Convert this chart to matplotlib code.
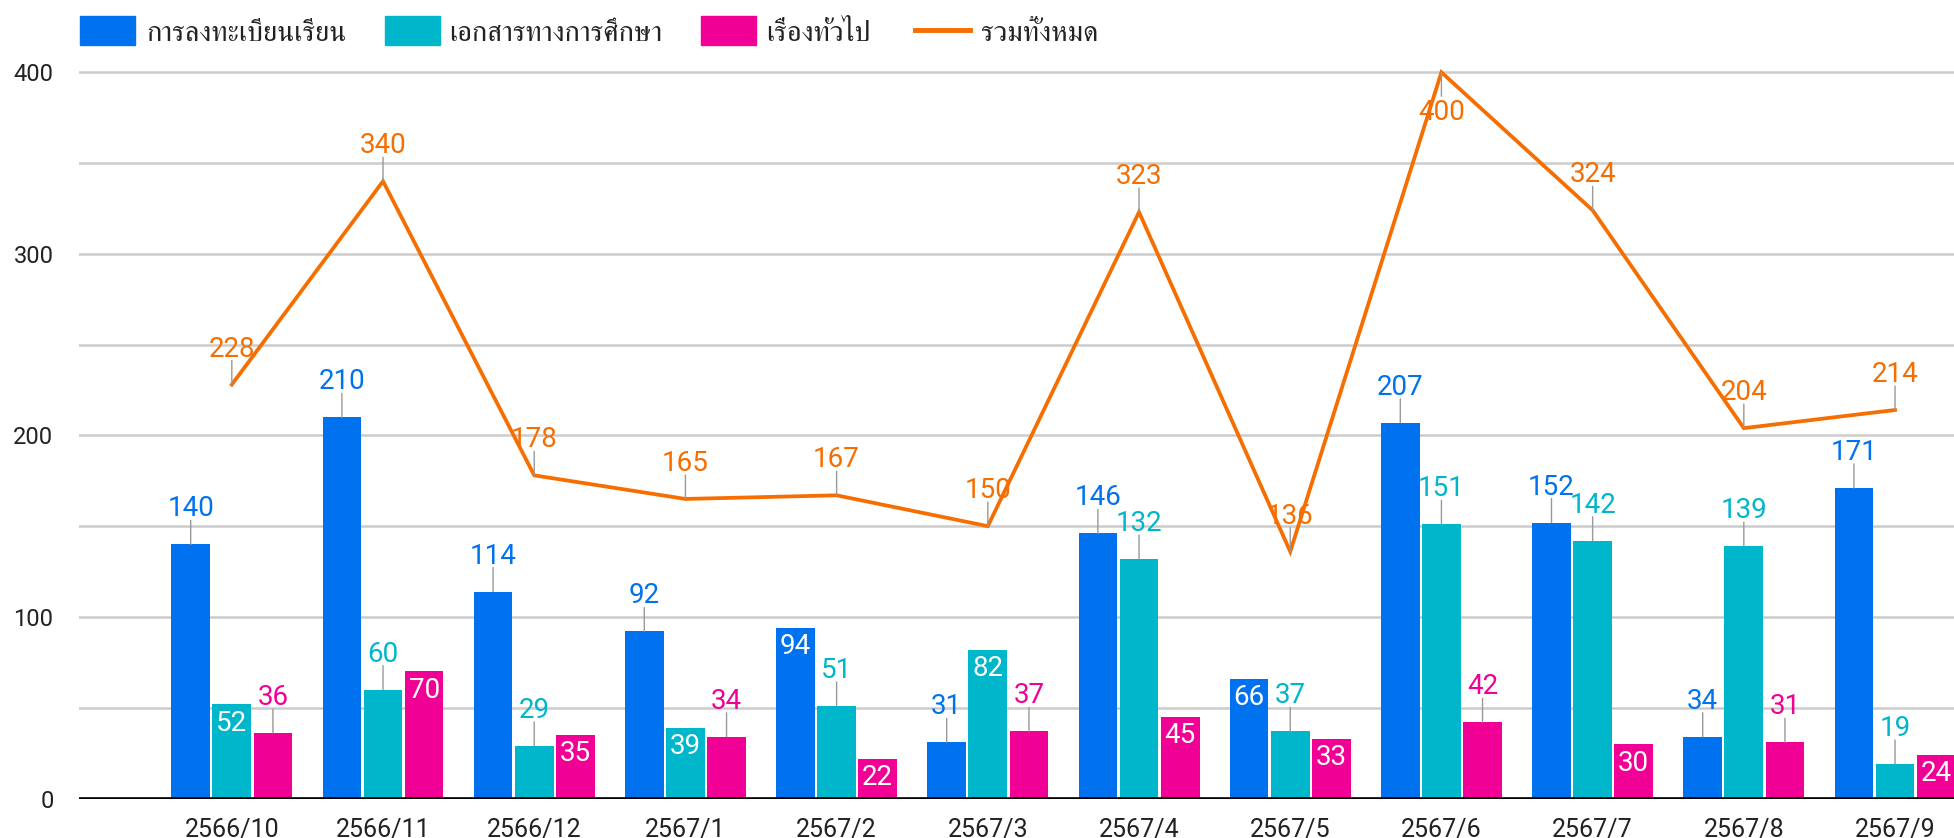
import matplotlib
matplotlib.use("Agg")
import matplotlib.pyplot as plt
from matplotlib import font_manager as fm
from matplotlib.patches import Rectangle
from matplotlib.lines import Line2D
import numpy as np

# ---- data ----
categories = ["2566/10", "2566/11", "2566/12", "2567/1", "2567/2", "2567/3",
              "2567/4", "2567/5", "2567/6", "2567/7", "2567/8", "2567/9"]
registration = [140, 210, 114, 92, 94, 31, 146, 66, 207, 152, 34, 171]
documents = [52, 60, 29, 39, 51, 82, 132, 37, 151, 142, 139, 19]
general = [36, 70, 35, 34, 22, 37, 45, 33, 42, 30, 31, 24]
total = [228, 340, 178, 165, 167, 150, 323, 136, 400, 324, 204, 214]
series_names = ["การลงทะเบียนเรียน", "เอกสารทางการศึกษา", "เรื่องทั่วไป", "รวมทั้งหมด"]
y_ticks = [0, 100, 200, 300, 400]

# label placement styles: 'o' outside (above with stem), 'i' inside bar, 'b' below
reg_place = ["o", "o", "o", "o", "i", "o", "o", "i", "o", "o", "o", "o"]
doc_place = ["i", "o", "o", "i", "o", "i", "o", "o", "o", "o", "o", "o"]
gen_place = ["o", "i", "i", "o", "i", "o", "i", "i", "o", "i", "o", "i"]
tot_place = ["o"] * 8 + ["b"] + ["o"] * 3

colors = ["#0072F0", "#00B6CB", "#F10096", "#F66D00"]

# ---- choose an installed font with Thai glyphs ----
installed = {f.name for f in fm.fontManager.ttflist}
preferred = ["FreeSerif", "Noto Serif Thai", "Taviraj", "Loma", "Noto Sans Thai"]
chosen = [p for p in preferred if p in installed]
legend_family = chosen[:1] + ["DejaVu Sans"]

num_font = "Roboto"

W, H = 1954, 838
fig = plt.figure(figsize=(W / 100, H / 100), dpi=100)
ax_left = 78.5 / W
ax_bottom = (H - 798.5) / H
ax_height = (798.5 - 36.0) / H
ax = fig.add_axes([ax_left, ax_bottom, 1.0 - ax_left, ax_height])

x = np.arange(len(categories))
off = 0.272
bw = 0.256
ax.set_xlim(-1.014, 11.39)
ax.set_ylim(0, 420)

for gy in range(50, 401, 50):
    ax.axhline(gy, color="#CCCCCC", lw=1.8, zorder=0)
ax.axhline(0, color="black", lw=2.6, zorder=5)

series = [registration, documents, general]
places = [reg_place, doc_place, gen_place]
for k, (vals, pl) in enumerate(zip(series, places)):
    xs = x + (k - 1) * off
    ax.bar(xs, vals, width=bw, color=colors[k], zorder=2)
    for xi, v, p in zip(xs, vals, pl):
        if p == "i":
            ax.annotate(str(v), xy=(xi, v), xytext=(0, -19), textcoords="offset pixels",
                        ha="center", va="center", color="white", fontsize=20,
                        family=num_font, zorder=6)
        else:
            ax.annotate("", xy=(xi, v), xytext=(0, 24), textcoords="offset pixels",
                        arrowprops=dict(arrowstyle="-", color="#999999", lw=1.0,
                                        shrinkA=0, shrinkB=0), zorder=6)
            ax.annotate(str(v), xy=(xi, v), xytext=(0, 28), textcoords="offset pixels",
                        ha="center", va="baseline", color=colors[k], fontsize=20,
                        family=num_font, zorder=6)

ax.plot(x, total, color=colors[3], lw=2.7, zorder=4, solid_joinstyle="miter")
for xi, v, p in zip(x, total, tot_place):
    if p == "b":
        ax.annotate("", xy=(xi, v), xytext=(0, -24), textcoords="offset pixels",
                    arrowprops=dict(arrowstyle="-", color="#999999", lw=1.0,
                                    shrinkA=0, shrinkB=0), zorder=6)
        ax.annotate(str(v), xy=(xi, v), xytext=(0, -48), textcoords="offset pixels",
                    ha="center", va="baseline", color=colors[3], fontsize=20,
                    family=num_font, zorder=6)
    else:
        ax.annotate("", xy=(xi, v), xytext=(0, 24), textcoords="offset pixels",
                    arrowprops=dict(arrowstyle="-", color="#999999", lw=1.0,
                                    shrinkA=0, shrinkB=0), zorder=6)
        ax.annotate(str(v), xy=(xi, v), xytext=(0, 28), textcoords="offset pixels",
                    ha="center", va="baseline", color=colors[3], fontsize=20,
                    family=num_font, zorder=6)

ax.set_xticks(x)
ax.set_xticklabels(categories, fontsize=18, family=num_font, color="#222222")
ax.set_yticks(y_ticks)
ax.set_yticklabels([str(t) for t in y_ticks], fontsize=17, family=num_font, color="#222222")
ax.tick_params(axis="x", length=0, pad=14)
ax.tick_params(axis="y", length=0, pad=18)
for s in ax.spines.values():
    s.set_visible(False)

# ---- legend (manual) ----
def fx(px):
    return px / W

def fy(py):
    return 1 - py / H

rect_x = [80, 385, 701]
text_x = [146, 449, 766, 981]
for k in range(3):
    fig.patches.append(Rectangle((fx(rect_x[k]), fy(45)), fx(55), 29 / H,
                                 transform=fig.transFigure, color=colors[k]))
fig.lines.append(Line2D([fx(915), fx(970)], [fy(30), fy(30)], transform=fig.transFigure,
                        color=colors[3], lw=3.5))
for k in range(4):
    fig.text(fx(text_x[k]), fy(41), series_names[k], ha="left", va="baseline",
             fontsize=20.5, family=legend_family, color="#222222")

fig.savefig("out.png", dpi=100)
